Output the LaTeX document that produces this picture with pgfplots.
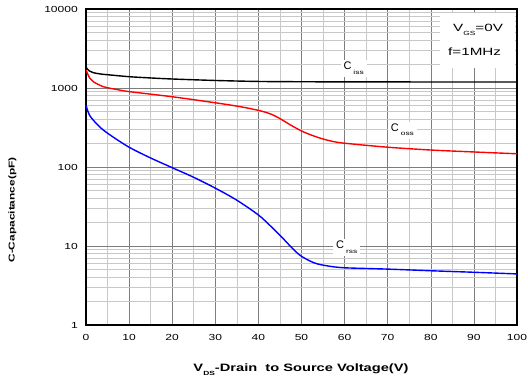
\documentclass[border=0pt]{standalone}
\usepackage{pgfplots}
\pgfplotsset{compat=1.18}
\usepackage{fontspec}
\setmainfont{Liberation Sans}
\definecolor{gmaj}{RGB}{125,125,125}
\definecolor{gmin}{RGB}{200,200,200}
\newcommand{\hs}[2][1.4]{\scalebox{#1}[1]{#2}}
\newcommand{\sub}[1]{\raisebox{-4.3pt}{\fontsize{6}{7}\selectfont\hs{#1}}}
\newcommand{\tk}[1]{{\fontsize{8.8}{10}\selectfont\hs[1.37]{#1}}}
\begin{document}
\begin{tikzpicture}
\useasboundingbox (-86pt,-58pt) rectangle (442pt,325pt);
\begin{axis}[
  scale only axis, width=431pt, height=316pt,
  ymode=log, xmin=0, xmax=100, ymin=1, ymax=10000,
  xtick={0,10,...,100}, minor xtick={5,15,...,95},
  xticklabels={\tk{0},\tk{10},\tk{20},\tk{30},\tk{40},\tk{50},\tk{60},\tk{70},\tk{80},\tk{90},\tk{100}},
  ytick={1,10,100,1000,10000}, yticklabels={\tk{1},\tk{10},\tk{100},\tk{1000},\tk{10000}},
  grid=both,
  major grid style={gmaj, line width=0.6pt},
  minor grid style={gmin, line width=0.6pt},
  major tick length=0pt, minor tick length=0pt,
  axis line style={black, line width=1.6pt},
  xticklabel style={anchor=north, inner sep=0pt, yshift=-9pt},
  yticklabel style={anchor=east, inner sep=0pt, xshift=-8pt},
  /pgf/number format/assume math mode=true,
  clip=false,
]
\addplot[black, line width=1.4pt, smooth, tension=0.5] coordinates {
(0,1830) (0.8,1640) (1.7,1563) (3.5,1500) (5.6,1462) (10,1390) (15,1340) (20,1300) (30,1245) (40,1210) (50,1200) (60,1195) (80,1192) (100,1190)};
\addplot[red, line width=1.4pt, smooth, tension=0.5] coordinates {
(0,1700) (0.8,1350) (1.7,1200) (4,1040) (7,960) (10,900) (20,775) (30,650) (35,590) (38,550) (41,505) (43,465) (45,410) (47,352) (49,305) (51,270) (54,235) (57,212) (60,200) (70,178) (80,164) (90,155) (100,147)};
\addplot[blue, line width=1.4pt, smooth, tension=0.5] coordinates {
(0,610) (0.4,515) (0.9,445) (2,375) (3.5,310) (5.6,254) (10,178) (15,130) (20,98) (25,74) (30,54) (35,38) (40,24.7) (43,17.5) (46,12) (48,9.2) (50,7.4) (53,6.1) (56,5.6) (60,5.3) (70,5.1) (80,4.86) (90,4.65) (100,4.43)};
\fill[white] (axis cs:82.2,8900) rectangle (axis cs:99.5,1800);
\end{axis}
\begin{scope}[every node/.style={fill=white, inner xsep=3pt, inner ysep=2.5pt, anchor=base west}]
\node[font=\fontsize{11}{12}\selectfont] at (343.3pt-86pt-3pt,325pt-70pt) {C\hspace{2pt}\sub{iss}};
\node[font=\fontsize{11}{12}\selectfont] at (390.7pt-86pt-3pt,325pt-131.7pt) {C\hspace{2pt}\sub{oss}};
\node[font=\fontsize{11}{12}\selectfont] at (336pt-86pt-3pt,325pt-249pt) {C\hspace{2pt}\sub{rss}};
\end{scope}
\begin{scope}[every node/.style={inner sep=0pt, anchor=base west}]
\node[font=\fontsize{10.5}{12}\selectfont] at (453pt-86pt,325pt-31.7pt) {\hs[1.45]{V}\sub{GS}\hs[1.45]{=0V}};
\node[font=\fontsize{10.5}{12}\selectfont] at (448pt-86pt,325pt-55.7pt) {\hs[1.45]{f=1MHz}};
\node[font=\bfseries\fontsize{10.7}{12}\selectfont, anchor=base] at (301pt-86pt,325pt-371.7pt) {\hs[1.37]{V}\sub{\bfseries DS}\hs[1.37]{-Drain\ \ to Source Voltage(V)}};
\node[font=\bfseries\fontsize{8.5}{10}\selectfont, anchor=center, rotate=90] at (12.5pt-86pt,325pt-210pt) {\hs[1.4]{C-Capacitance(pF)}};
\end{scope}
\end{tikzpicture}
\end{document}
